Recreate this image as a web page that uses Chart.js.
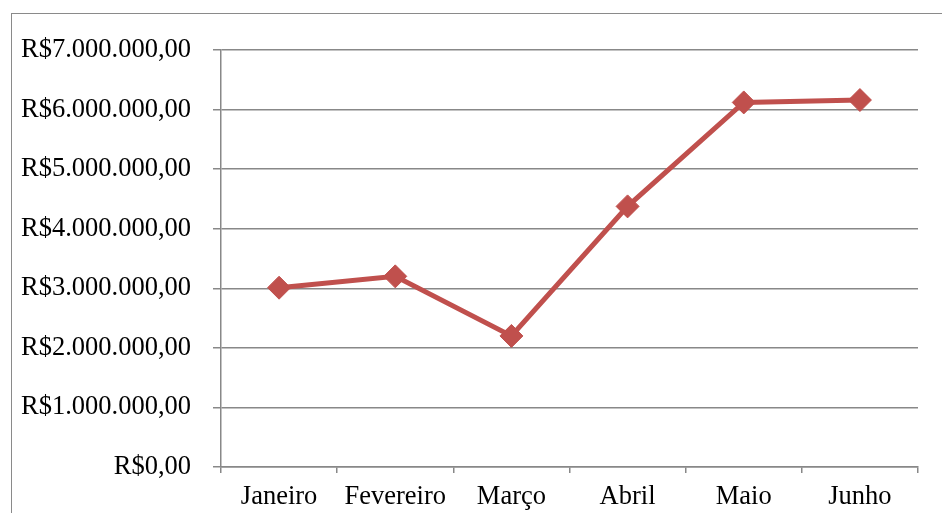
<!DOCTYPE html>
<html>
<head>
<meta charset="utf-8">
<script src="https://cdn.jsdelivr.net/npm/chart.js@4"></script>
<style>
  html, body { margin: 0; padding: 0; background: #fff; overflow: hidden; }
  #wrap { position: relative; width: 942px; height: 513px; }
  #frame { position: absolute; left: 11px; top: 13px; width: 1000px; height: 1000px;
           border: 1.5px solid #8a8a8a; box-sizing: border-box; }
  #chart { position: absolute; left: 0; top: 0; }
</style>
</head>
<body>
<div id="wrap">
  <div id="frame"></div>
  <canvas id="chart" width="942" height="513"></canvas>
</div>
<script>
// dados
var meses = ["Janeiro", "Fevereiro", "Março", "Abril", "Maio", "Junho"];
var valores = [3010000, 3200000, 2200000, 4375000, 6120000, 6160000];
var yMin = 0;
var yMax = 7000000;
var yPasso = 1000000;

// formato R$ brasileiro
function formatBRL(v) {
    var inteiro = Math.round(v).toString();
    var partes = [];
    while (inteiro.length > 3) {
        partes.unshift(inteiro.slice(-3));
        inteiro = inteiro.slice(0, -3);
    }
    partes.unshift(inteiro);
    return "R$" + partes.join(".") + ",00";
}

var cinza = "#888888";
var vermelho = "#C0504D";
var fonte = "'Liberation Serif', 'Times New Roman', serif";

// grafico
var ctx = document.getElementById("chart").getContext("2d");
var chart = new Chart(ctx, {
    type: "line",
    data: {
        labels: meses,
        datasets: [
            {
                label: "Valor",
                data: valores,
                borderColor: vermelho,
                backgroundColor: vermelho,
                borderWidth: 5,
                pointStyle: "rectRot",
                pointRadius: 11.5,
                pointBorderWidth: 1,
                pointBackgroundColor: vermelho,
                pointBorderColor: vermelho,
                tension: 0,
            },
        ],
    },
    options: {
        responsive: false,
        animation: false,
        layout: { padding: { top: 50, right: 24, left: 0, bottom: 0 } },
        plugins: {
            legend: { display: false },
            tooltip: { enabled: false },
        },
        scales: {
            x: {
                offset: true,
                grid: {
                    offset: true,
                    drawOnChartArea: false,
                    drawTicks: true,
                    tickLength: 6,
                    tickColor: cinza,
                    lineWidth: 1.5,
                },
                border: { display: true, color: cinza, width: 1.5 },
                ticks: {
                    color: "#000",
                    padding: 8,
                    maxRotation: 0,
                    font: { family: fonte, size: 26.5 },
                },
                afterFit: function (scale) { scale.height = 46; },
            },
            y: {
                min: yMin,
                max: yMax,
                grid: {
                    color: cinza,
                    lineWidth: 1.5,
                    tickLength: 8,
                    tickColor: cinza,
                },
                border: { display: true, color: cinza, width: 1.5 },
                ticks: {
                    stepSize: yPasso,
                    color: "#000",
                    padding: 22,
                    font: { family: fonte, size: 26.5 },
                    callback: function (v) { return formatBRL(v); },
                },
                afterFit: function (scale) { scale.width = 221; },
            },
        },
    },
});
</script>
</body>
</html>
